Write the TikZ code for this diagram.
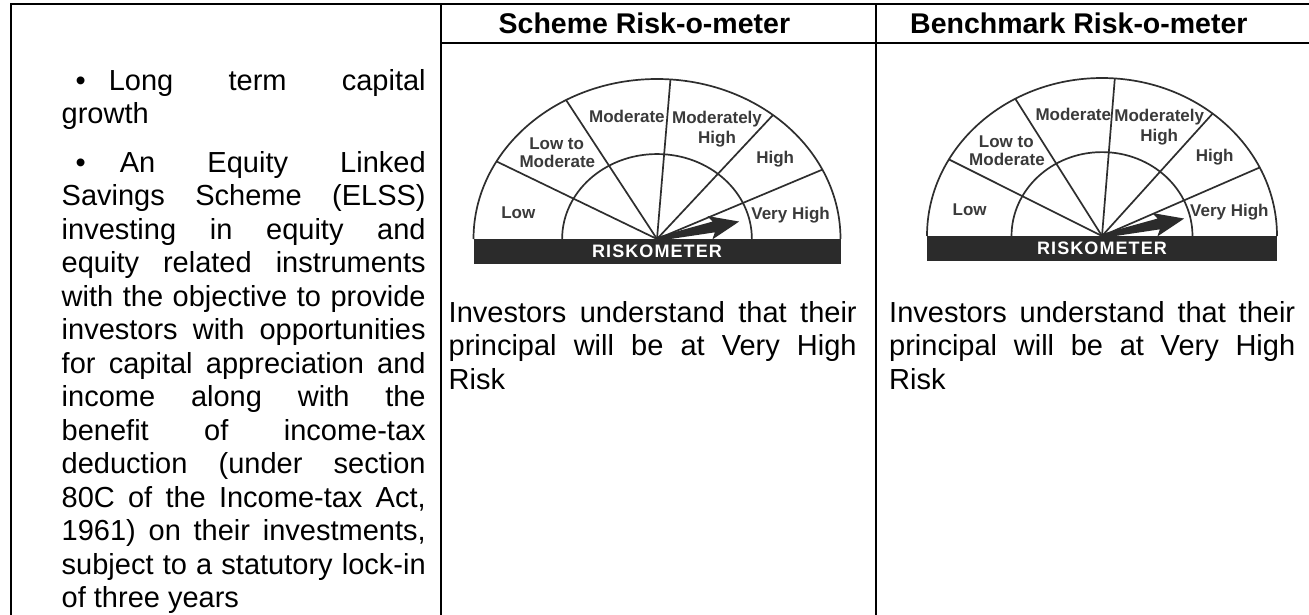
\documentclass[tikz,border=0pt]{standalone}
\usepackage{fontspec}
\setmainfont{Liberation Sans}
\definecolor{gaugegray}{HTML}{2E2E2E}
\definecolor{labelgray}{HTML}{3A3A3A}
\definecolor{bardark}{HTML}{2B2B2B}
\tikzset{
  tline/.style={line width=2.4pt, black},
  gline/.style={line width=1.7pt, draw=gaugegray, line join=round},
  glabel/.style={anchor=base, inner sep=0pt, text=labelgray, font=\fontsize{17}{19}\selectfont\bfseries},
  barlabel/.style={inner sep=0pt, text=white, font=\fontsize{18}{18}\selectfont\bfseries\addfontfeature{LetterSpace=6}},
  headtext/.style={anchor=base west, inner sep=0pt, font=\fontsize{28.5}{33}\selectfont\bfseries},
  bodytext/.style={anchor=base west, inner sep=0pt, font=\fontsize{29}{33.5}\selectfont},
}
\newcommand\jline[5]{\node[bodytext] (#1) at (#2,#3) {\makebox[#4pt][s]{#5}};}
\newcommand\lline[4]{\node[bodytext] (#1) at (#2,#3) {#4};}
% #1 prefix, #2 cx, #3 cy, #4 rx, #5 ry
\newcommand\riskgauge[5]{%
  \coordinate (#1c) at (#2,#3);
  \fill[bardark] ({#2-#4},#3) rectangle ({#2+#4},{#3+24.5});
  \node[barlabel] (#1bar) at (#2,{#3+12.6}) {RISKOMETER};
  \pgfmathsetmacro\irx{0.517*#4}%
  \pgfmathsetmacro\iry{0.531*#5}%
  \draw[gline] ({#2-#4},#3) arc[start angle=180, end angle=0, x radius=#4pt, y radius=#5pt];
  \draw[gline] ({#2-\irx},#3) arc[start angle=180, end angle=0, x radius=\irx pt, y radius=\iry pt];
  \foreach \a in {151,119.7,85.8,50.8,25.7}{
    \draw[gline] (#1c) -- ({#2+#4*cos(\a)},{#3-#5*sin(\a)});
  }
  \begin{scope}[shift={(#1c)}, rotate=12]
    \fill[bardark] (0,2) -- (58,5.5) -- (54,12) -- (84,0) -- (54,-12) -- (58,-5.5) -- (0,-2) -- cycle;
  \end{scope}
  \node[glabel] (#1mod) at ({#2-0.164*#4},{#3-0.731*#5}) {Moderate};
  \node[glabel] (#1mh1) at ({#2+0.327*#4},{#3-0.725*#5}) {Moderately};
  \node[glabel] (#1mh2) at ({#2+0.327*#4},{#3-0.600*#5}) {High};
  \node[glabel] (#1ltm1) at ({#2-0.547*#4},{#3-0.5625*#5}) {Low to};
  \node[glabel] (#1ltm2) at ({#2-0.543*#4},{#3-0.444*#5}) {Moderate};
  \node[glabel] (#1high) at ({#2+0.644*#4},{#3-0.469*#5}) {High};
  \node[glabel] (#1low) at ({#2-0.756*#4},{#3-0.131*#5}) {Low};
  \node[glabel] (#1vh) at ({#2+0.728*#4},{#3-0.125*#5}) {Very High};
}
\begin{document}
\begin{tikzpicture}[x=1pt,y=-1pt]
\useasboundingbox (0,0) rectangle (1309,614);
\fill[white] (0,0) rectangle (1309,614);
\begin{scope}
\clip (0,0) rectangle (1309,614);
% table rules
\draw[tline] (11,4) -- (1312,4);
\draw[tline] (11,3) -- (11,616);
\draw[tline] (441,3) -- (441,616);
\draw[tline] (876,3) -- (876,616);
\draw[tline] (441,43) -- (1312,43);
\end{scope}
% headers
\node[headtext] (h1) at (498.5,33) {Scheme Risk-o-meter};
\node[headtext] (h2) at (910,33) {Benchmark Risk-o-meter};
% left column
\jline{a1}{61.5}{90}{364}{\hspace*{14pt}\textbullet\hspace{23pt}Long term capital}
\lline{a2}{61.5}{123.5}{growth}
\jline{b1}{61.5}{172}{364}{\hspace*{14pt}\textbullet\hspace{34pt}An Equity Linked}
\jline{b2}{61.5}{205.5}{364}{Savings Scheme (ELSS)}
\jline{b3}{61.5}{239}{364}{investing in equity and}
\jline{b4}{61.5}{272.5}{364}{equity related instruments}
\jline{b5}{61.5}{306}{364}{with the objective to provide}
\jline{b6}{61.5}{339.5}{364}{investors with opportunities}
\jline{b7}{61.5}{373}{364}{for capital appreciation and}
\jline{b8}{61.5}{406.5}{364}{income along with the}
\jline{b9}{61.5}{440}{364}{benefit of income-tax}
\jline{b10}{61.5}{473.5}{364}{deduction (under section}
\jline{b11}{61.5}{507}{364}{80C of the Income-tax Act,}
\jline{b12}{61.5}{540.5}{364}{1961) on their investments,}
\jline{b13}{61.5}{574}{364}{subject to a statutory lock-in}
\lline{b14}{61.5}{607.5}{of three years}
% gauges
\riskgauge{g1}{657}{239}{183.5}{160}
\riskgauge{g2}{1102}{236}{175}{158}
% middle column text
\jline{m1}{448.5}{322}{408}{Investors understand that their}
\jline{m2}{448.5}{355.5}{408}{principal will be at Very High}
\lline{m3}{448.5}{389}{Risk}
% right column text
\jline{r1}{889}{322}{406}{Investors understand that their}
\jline{r2}{889}{355.5}{406}{principal will be at Very High}
\lline{r3}{889}{389}{Risk}
\end{tikzpicture}
\end{document}
